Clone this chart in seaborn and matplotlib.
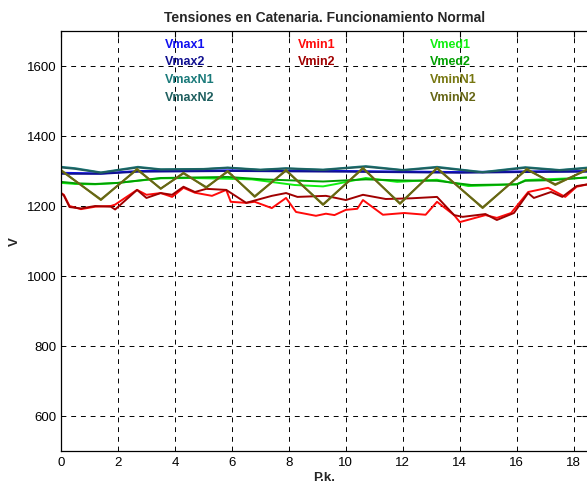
import numpy as np
import pandas as pd
import seaborn as sns
import matplotlib.pyplot as plt

# valores (P.k. en km, tension en V)
x_vmax = [0, 1.4, 2.7, 6.0, 10.0, 14.0, 16.3, 18.5]
vmax1 = [1295, 1293, 1300, 1302, 1300, 1297, 1299, 1300]
vmax2 = [1292, 1292, 1298, 1300, 1298, 1295, 1297, 1298]

x_vmaxn = [0, 0.5, 1.4, 2.7, 3.5, 5.0, 5.85, 7.0, 7.9, 9.2, 10.7, 12.0, 13.2, 14.8, 16.3, 17.5, 18.5]
vmaxn1 = [1312, 1308, 1296, 1312, 1305, 1306, 1310, 1304, 1308, 1304, 1314, 1303, 1312, 1297, 1311, 1303, 1310]
vmaxn2 = [1310, 1306, 1295, 1310, 1304, 1305, 1309, 1303, 1307, 1303, 1312, 1302, 1310, 1296, 1309, 1302, 1308]

x_vmin1 = [0, 0.1, 0.3, 0.7, 1.2, 1.75, 1.9, 2.67, 3.0, 3.5, 3.9, 4.3, 4.7, 5.3, 5.8, 5.96, 6.5,
           6.8, 7.4, 7.9, 8.25, 8.95, 9.3, 9.6, 10.0, 10.4, 10.6, 11.3, 12.05, 12.8, 13.2, 13.8,
           14.0, 14.9, 15.3, 15.8, 16.4, 17.1, 17.7, 18.1, 18.5]
vmin1 = [1237, 1232, 1200, 1191, 1198, 1200, 1204, 1246, 1232, 1237, 1226, 1252, 1238, 1229, 1246, 1212, 1209,
         1212, 1194, 1223, 1183, 1172, 1178, 1174, 1189, 1192, 1217, 1175, 1180, 1175, 1212, 1174,
         1154, 1174, 1166, 1180, 1240, 1252, 1226, 1255, 1262]

x_vmin2 = [0, 0.1, 0.3, 0.7, 1.2, 1.75, 1.9, 2.67, 3.0, 3.5, 3.9, 4.3, 4.7, 5.1, 5.8, 6.5, 7.4,
           7.9, 8.3, 9.3, 10.0, 10.6, 11.4, 12.3, 13.2, 13.8, 14.1, 14.9, 15.3, 15.9, 16.4, 16.6,
           17.2, 17.6, 18.1, 18.5]
vmin2 = [1237, 1230, 1197, 1193, 1200, 1198, 1190, 1246, 1223, 1237, 1232, 1255, 1240, 1249, 1246, 1209, 1229,
         1237, 1226, 1229, 1217, 1232, 1220, 1222, 1226, 1174, 1169, 1177, 1160, 1180, 1237, 1223,
         1240, 1226, 1257, 1262]

x_vmed1 = [0, 0.5, 1.2, 2.0, 3.5, 4.5, 5.85, 6.7, 8.2, 9.2, 9.6, 10.7, 11.8, 13.2, 14.3, 16.0, 16.3, 18.5]
vmed1 = [1266, 1263, 1262, 1266, 1279, 1280, 1278, 1276, 1260, 1256, 1262, 1280, 1269, 1275, 1257, 1262, 1274, 1281]

x_vmed2 = [0, 0.5, 1.2, 2.0, 3.5, 5.85, 7.1, 9.2, 10.7, 12.0, 13.2, 14.4, 16.0, 16.3, 17.3, 18.5]
vmed2 = [1269, 1265, 1263, 1266, 1280, 1283, 1276, 1270, 1276, 1273, 1272, 1260, 1262, 1272, 1274, 1282]

x_vminn = [0, 1.4, 2.67, 3.5, 4.3, 5.1, 5.85, 6.8, 7.9, 9.2, 10.6, 11.9, 13.2, 14.8, 16.35, 17.35, 18.5]
vminn1 = [1303, 1217, 1306, 1249, 1295, 1252, 1300, 1226, 1303, 1203, 1309, 1206, 1309, 1194, 1306, 1260, 1306]
vminn2 = [1301, 1219, 1304, 1250, 1293, 1254, 1298, 1228, 1301, 1205, 1307, 1208, 1307, 1196, 1304, 1262, 1304]

series = [
    ('Vmax1', x_vmax, vmax1, '#1010f0'),
    ('Vmax2', x_vmax, vmax2, '#101090'),
    ('Vmin1', x_vmin1, vmin1, '#ff0a0a'),
    ('Vmin2', x_vmin2, vmin2, '#a00000'),
    ('Vmed1', x_vmed1, vmed1, '#10f010'),
    ('Vmed2', x_vmed2, vmed2, '#00a000'),
    ('VmaxN1', x_vmaxn, vmaxn1, '#1a7a7a'),
    ('VmaxN2', x_vmaxn, vmaxn2, '#1f5f5f'),
    ('VminN1', x_vminn, vminn1, '#777710'),
    ('VminN2', x_vminn, vminn2, '#666615'),
]

frames = []
for name, xs, ys, c in series:
    frames.append(pd.DataFrame({'pk': xs, 'V': ys, 'serie': name}))
df = pd.concat(frames, ignore_index=True)
palette = {name: c for name, xs, ys, c in series}

sns.set_style('white')
plt.rcParams['font.family'] = ['Liberation Sans', 'DejaVu Sans']

fig = plt.figure(figsize=(5.87, 4.85), dpi=100)
ax = fig.add_axes([61 / 587, 33 / 485, 527 / 587, 420 / 485])

sns.lineplot(data=df, x='pk', y='V', hue='serie', palette=palette,
             estimator=None, sort=False, legend=False, linewidth=1.4, ax=ax)

ax.set_xlim(0, 18.5)
ax.set_ylim(500, 1700)
ax.set_xticks(range(0, 19, 2))
ax.set_yticks(range(600, 1601, 200))
ax.grid(True, color='black', linestyle=(0, (5, 5)), linewidth=0.7)
ax.tick_params(direction='in', top=True, right=True, length=4, labelsize=9.5, colors='black')
for s in ax.spines.values():
    s.set_color('black')
    s.set_linewidth(0.9)

ax.set_title('Tensiones en Catenaria. Funcionamiento Normal', fontsize=10, fontweight='bold', pad=7)
ax.set_xlabel('P.k.', fontsize=9.5, fontweight='bold', labelpad=2)
ax.set_ylabel('V', fontsize=9.5, fontweight='bold', labelpad=4)

# leyenda tipo texto, en tres columnas
cols = {0.197: ['Vmax1', 'Vmax2', 'VmaxN1', 'VmaxN2'],
        0.450: ['Vmin1', 'Vmin2'],
        0.700: ['Vmed1', 'Vmed2', 'VminN1', 'VminN2']}
rows = [0.969, 0.929, 0.886, 0.843]
for xc, names in cols.items():
    for yr, name in zip(rows, names):
        ax.text(xc, yr, name, transform=ax.transAxes, color=palette[name],
                fontsize=9, fontweight='bold', va='center', ha='left')

fig.savefig('out.png', dpi=100)
